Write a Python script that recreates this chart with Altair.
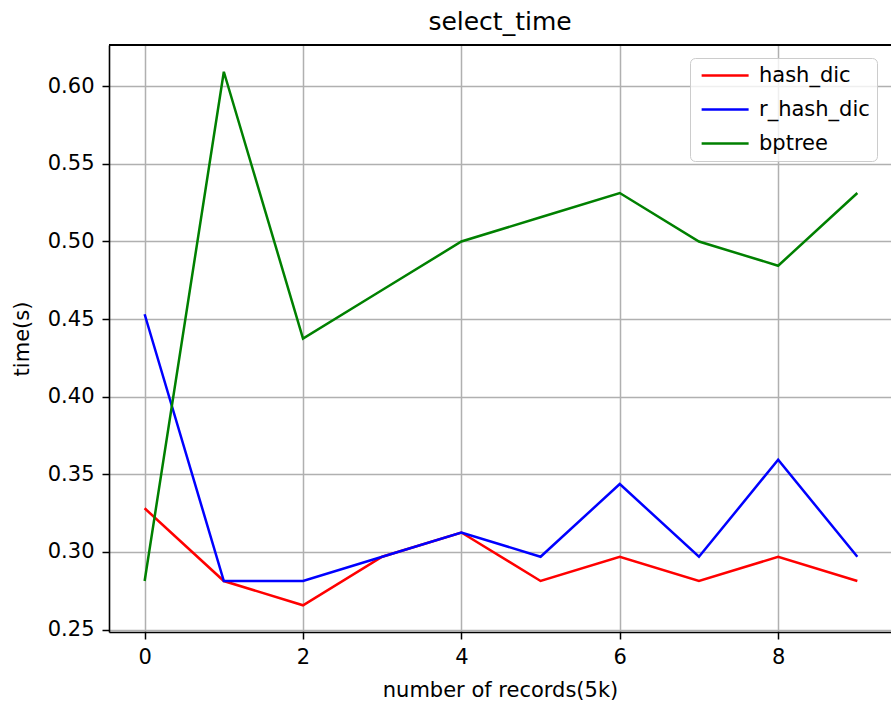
import altair as alt
import pandas as pd

x_vals = [0, 1, 2, 3, 4, 5, 6, 7, 8, 9]
series_names = ["hash_dic", "r_hash_dic", "bptree"]
hash_dic = [0.328125, 0.28125, 0.265625, 0.296875, 0.3125, 0.28125, 0.296875, 0.28125, 0.296875, 0.28125]
r_hash_dic = [0.453125, 0.28125, 0.28125, 0.296875, 0.3125, 0.296875, 0.34375, 0.296875, 0.359375, 0.296875]
bptree = [0.28125, 0.609375, 0.4375, 0.46875, 0.5, 0.515625, 0.53125, 0.5, 0.484375, 0.53125]
colors = ["#ff0000", "#0000ff", "#008000"]
y_ticks = [0.25, 0.30, 0.35, 0.40, 0.45, 0.50, 0.55, 0.60]
x_ticks = [0, 2, 4, 6, 8]

rows = []
for name, vals in zip(series_names, [hash_dic, r_hash_dic, bptree]):
    for xv, yv in zip(x_vals, vals):
        rows.append({"x": xv, "time": yv, "series": name})
df = pd.DataFrame(rows)

FONT = "DejaVu Sans"
W, H = 782, 587

lines = alt.Chart(df).mark_line(strokeWidth=2.5).encode(
    x=alt.X("x:Q",
            scale=alt.Scale(domain=[-0.45, 9.425], nice=False, zero=False),
            axis=alt.Axis(values=x_ticks, title="number of records(5k)", format="d",
                          grid=True, gridColor="#b0b0b0", gridWidth=1.5,
                          domainColor="black", domainWidth=1.6,
                          tickColor="black", tickSize=7, tickWidth=1.5,
                          labelFont=FONT, labelFontSize=21, labelColor="black", labelPadding=7,
                          titleFont=FONT, titleFontSize=21, titleFontWeight="normal",
                          titleColor="black", titlePadding=12)),
    y=alt.Y("time:Q",
            scale=alt.Scale(domain=[0.2484, 0.6266], nice=False, zero=False),
            axis=alt.Axis(values=y_ticks, title="time(s)", format=".2f",
                          grid=True, gridColor="#b0b0b0", gridWidth=1.5,
                          domainColor="black", domainWidth=1.6,
                          tickColor="black", tickSize=7, tickWidth=1.5,
                          labelFont=FONT, labelFontSize=21, labelColor="black", labelPadding=8,
                          titleFont=FONT, titleFontSize=21, titleFontWeight="normal",
                          titleColor="black", titlePadding=15)),
    color=alt.Color("series:N",
                    scale=alt.Scale(domain=series_names, range=colors),
                    sort=series_names,
                    legend=alt.Legend(title=None, orient="none", legendX=581, legendY=13,
                                      symbolType="M-1,0L7,0", symbolSize=138, symbolStrokeWidth=2.5,
                                      symbolFillColor="transparent",
                                      labelFont=FONT, labelFontSize=21, labelColor="black",
                                      labelOffset=41, rowPadding=12,
                                      padding=7, strokeColor="#cccccc", fillColor="rgba(255,255,255,0.8)",
                                      cornerRadius=5)),
)

top_spine = alt.Chart(df).mark_rule(color="black", strokeWidth=1.6).encode(
    x=alt.value(0), x2=alt.value(W), y=alt.value(0)
)

chart = alt.layer(lines, top_spine).properties(
    width=W, height=H,
    title=alt.TitleParams("select_time", font=FONT, fontSize=25, fontWeight="normal",
                          color="black", anchor="middle", baseline="alphabetic", offset=13, dy=24),
    padding={"left": 109, "top": 45, "right": 0, "bottom": 69},
    autosize=alt.AutoSizeParams(type="none"),
).configure_view(stroke=None).configure(background="white")

chart.save("out.html", embed_options={"renderer": "svg", "actions": False})
